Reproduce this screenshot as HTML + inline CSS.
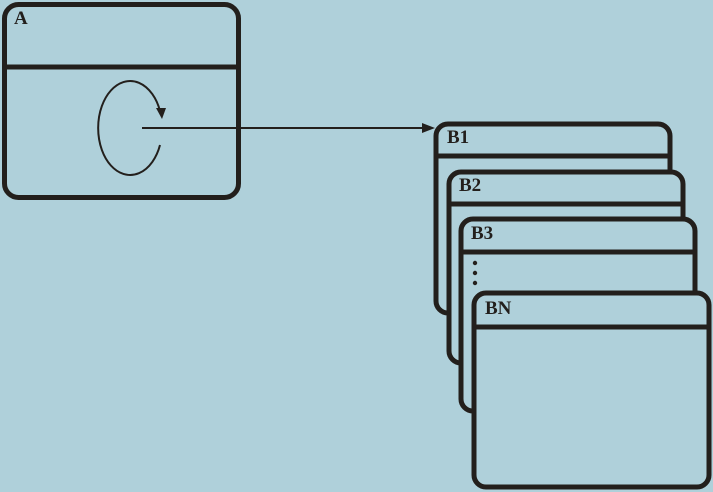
<!DOCTYPE html>
<html><head><style>body{margin:0;background:#afd0da}svg{display:block}text{font-family:"Liberation Serif",serif;font-weight:bold;font-size:19px;fill:#231f1c}</style></head>
<body>
<svg width="713" height="492" viewBox="0 0 713 492" xmlns="http://www.w3.org/2000/svg">
<rect width="713" height="492" fill="#afd0da"/>
<g fill="#afd0da" stroke="#231f1c" stroke-width="5">
<rect x="4.5" y="4.5" width="234" height="193" rx="14"/>
<line x1="4.5" y1="67" x2="238.5" y2="67"/>
<rect x="436" y="124" width="234" height="189" rx="12"/>
<line x1="436" y1="156" x2="670" y2="156"/>
<rect x="449" y="172" width="234" height="191" rx="12"/>
<line x1="449" y1="204" x2="683" y2="204"/>
<rect x="461" y="219" width="234" height="192" rx="12"/>
<line x1="461" y1="252" x2="695" y2="252"/>
<rect x="474" y="293" width="235" height="194" rx="12"/>
<line x1="474" y1="327" x2="709" y2="327"/>
</g>
<g fill="none" stroke="#231f1c" stroke-width="2">
<path d="M160 111 A32 47 0 1 0 160 145"/>
<line x1="142" y1="128" x2="424" y2="128"/>
</g>
<polygon points="156,108 166,108 162,119" fill="#231f1c"/>
<polygon points="435,128 422,123 422,133" fill="#231f1c"/>
<circle cx="475" cy="263" r="2.2" fill="#231f1c"/>
<circle cx="475" cy="273" r="2.2" fill="#231f1c"/>
<circle cx="475" cy="283" r="2.2" fill="#231f1c"/>
<text x="14" y="24">A</text>
<text x="447" y="143">B1</text>
<text x="459" y="191">B2</text>
<text x="471" y="239">B3</text>
<text x="485" y="314">BN</text>
</svg>
</body></html>
